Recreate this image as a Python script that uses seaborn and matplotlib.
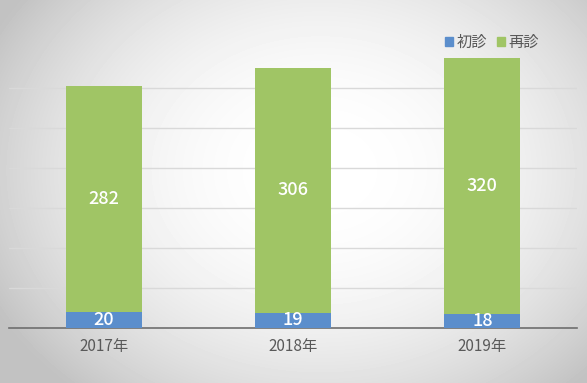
import numpy as np
import pandas as pd
import matplotlib.pyplot as plt
import seaborn as sns
from matplotlib.patches import Patch

years = ['2017年', '2018年', '2019年']
shoshin = [20, 19, 18]      # 初診
saishin = [282, 306, 320]   # 再診
series_names = ['初診', '再診']
blue = '#5B8ECC'
green = '#A0C565'

df = pd.DataFrame({'year': years, '初診': shoshin, '再診': saishin})
df['total'] = df['初診'] + df['再診']

sns.set_theme(style='white')
plt.rcParams['font.family'] = ['Noto Sans CJK JP', 'DejaVu Sans']

fig = plt.figure(figsize=(5.87, 3.83), dpi=100)

# radial gradient background
bg = fig.add_axes([0, 0, 1, 1], zorder=-10)
yy, xx = np.mgrid[0:383, 0:587]
r = np.sqrt(((xx - 320) / 340.0) ** 2 + ((yy - 170) / 270.0) ** 2)
shade = np.clip(1.0 - 0.2 * r ** 2.2, 0.76, 1.0)
bg.imshow(shade, cmap='gray', vmin=0, vmax=1, aspect='auto', interpolation='bilinear')
bg.axis('off')

ax = fig.add_axes([9 / 587, 55 / 383, 568 / 587, 280 / 383])
ax.set_facecolor('none')

sns.barplot(data=df, x='year', y='total', color=green, width=0.4, saturation=1,
            linewidth=0, ax=ax, zorder=3)
sns.barplot(data=df, x='year', y='初診', color=blue, width=0.4, saturation=1,
            linewidth=0, ax=ax, zorder=4)

for i, row in df.iterrows():
    ax.text(i, row['初診'] / 2, str(row['初診']), ha='center', va='center',
            color='white', fontsize=13, fontweight='medium', zorder=5)
    ax.text(i, row['初診'] + row['再診'] / 2, str(row['再診']), ha='center', va='center',
            color='white', fontsize=13, fontweight='medium', zorder=5)

ax.set_ylim(0, 350)
ax.set_xlim(-0.5, 2.5)
ax.set_yticks(range(50, 301, 50))
ax.set_yticklabels([])
ax.yaxis.grid(True, color='#d9d9d9', linewidth=1)
ax.set_axisbelow(True)
ax.tick_params(axis='x', length=0, labelsize=11, labelcolor='#595959', pad=7)
ax.tick_params(axis='y', length=0)
ax.set_xlabel('')
ax.set_ylabel('')
for s in ['top', 'right', 'left']:
    ax.spines[s].set_visible(False)
ax.spines['bottom'].set_color('#6e6e6e')
ax.spines['bottom'].set_linewidth(1.2)

handles = [Patch(color=blue), Patch(color=green)]
fig.legend(handles, series_names, loc='upper right', bbox_to_anchor=(553 / 587, 1 - 20 / 383),
           ncol=2, frameon=False, handlelength=0.55, handleheight=0.55,
           handletextpad=0.25, columnspacing=0.6, labelcolor='#595959',
           prop={'size': 11})

fig.savefig('out.png', dpi=100)
